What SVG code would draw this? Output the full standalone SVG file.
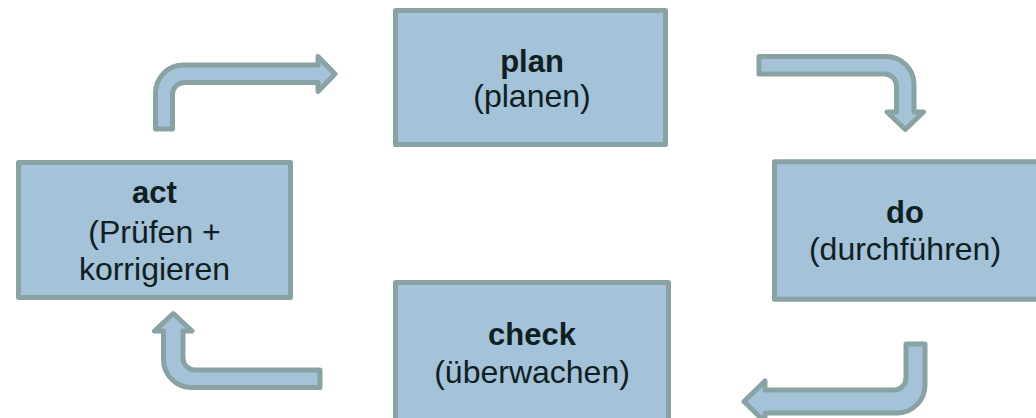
<svg xmlns="http://www.w3.org/2000/svg" width="1036" height="418" viewBox="0 0 1036 418">
<style>
.box{fill:#a4c2d8;stroke:#89a3a5;stroke-width:5;stroke-linejoin:round}
.arr{fill:#a4c2d8;stroke:#89a3a5;stroke-width:5;stroke-linejoin:round}
text{font-family:"Liberation Sans",Arial,sans-serif;fill:#0f2020;text-anchor:middle}
.b{font-weight:bold;font-size:31px}
.r{font-size:32px}
</style>
<rect width="1036" height="418" fill="#ffffff"/>
<g id="connectors">
<path class="arr" d="M155.5,129 V93 A28,28 0 0 1 183.5,65 H318 V56.5 L335,74 L318,91.5 V82.5 H184.5 A12,12 0 0 0 172.5,94.5 V129 Z"/>
<path class="arr" d="M759,56.5 H886 A28,28 0 0 1 914,84.5 V112 H923.5 L905.3,129.5 L887,112 H896.5 V86 A12,12 0 0 0 884.5,74 H759 Z"/>
<path class="arr" d="M906,344 H925 V385 A28,28 0 0 1 897,413 H765 V422 L744,401.5 L765,381 V390 H894 A12,12 0 0 0 906,378 Z"/>
<path class="arr" d="M320,370 V387.5 H191.5 A28,28 0 0 1 163.5,359.5 V331 H154.5 L173.3,313.5 L192,331 H183 V358 A12,12 0 0 0 195,370 Z"/>
</g>
<g id="plan">
<rect class="box" x="395.5" y="10.5" width="270" height="134"/>
<text class="b" x="532" y="71.7">plan</text>
<text class="r" x="532" y="106.5">(planen)</text>
</g>
<g id="do">
<rect class="box" x="774.5" y="161.8" width="272" height="137.4"/>
<text class="b" x="905" y="222.7">do</text>
<text class="r" x="905" y="260">(durchführen)</text>
</g>
<g id="check">
<rect class="box" x="395.5" y="282.5" width="273" height="150"/>
<text class="b" x="532" y="345">check</text>
<text class="r" x="532" y="383">(überwachen)</text>
</g>
<g id="act">
<rect class="box" x="18.5" y="162.5" width="272" height="135"/>
<text class="b" x="154.5" y="203.3">act</text>
<text class="r" x="154.5" y="242.5">(Prüfen +</text>
<text class="r" x="154.5" y="280">korrigieren</text>
</g>
</svg>
